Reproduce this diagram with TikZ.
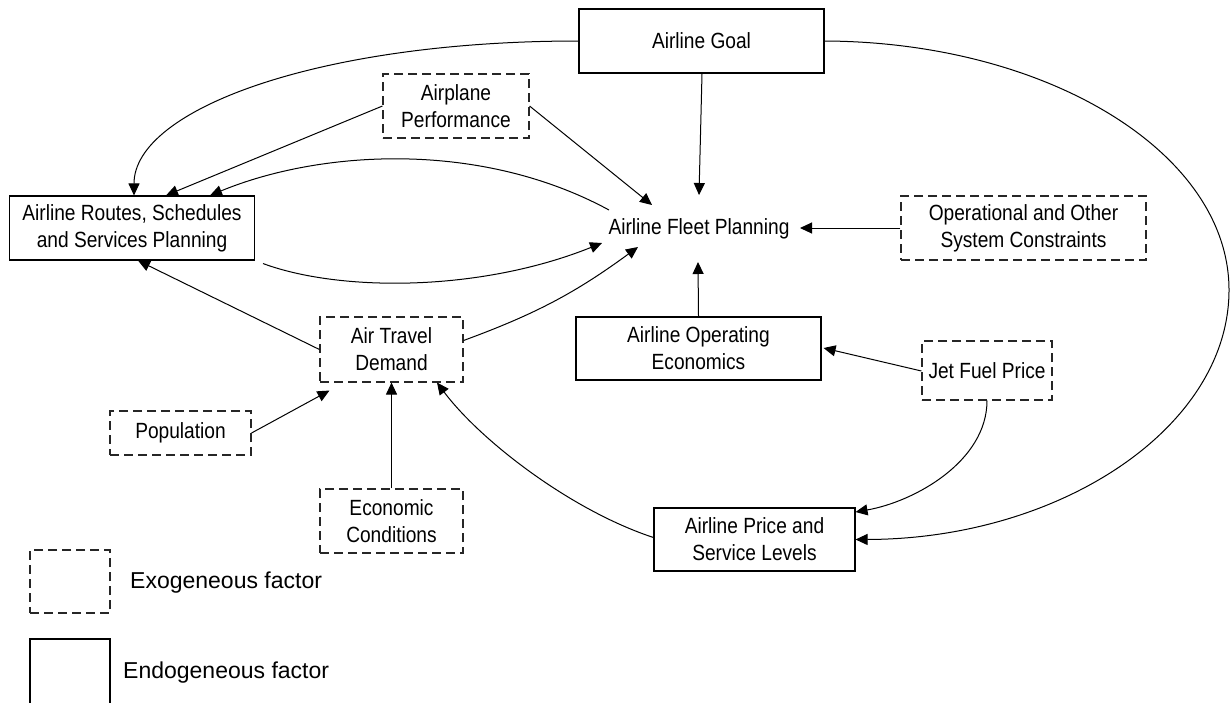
\documentclass[tikz,border=0pt]{standalone}
\usepackage{fontspec}
\setmainfont{Liberation Sans}
\newfontfamily\narrowfont[FakeStretch=0.87]{Liberation Sans}
\usetikzlibrary{arrows.meta,calc}
\begin{document}
\begin{tikzpicture}[x=1pt,y=-1pt,
  endo/.style={draw=black, line width=1.1pt, align=center, inner sep=0pt,
    font=\narrowfont\fontsize{22}{27}\selectfont},
  exo/.style={endo, draw=black!85, dash pattern=on 9pt off 5pt},
  conn/.style={line width=1pt, -{Triangle[length=12pt,width=11pt]}},
  legtext/.style={anchor=west, inner sep=0pt, font=\fontsize{23}{27}\selectfont}]
\fill[white] (0,0) rectangle (1230,702);
\useasboundingbox (0,0) rectangle (1230,702);

% nodes
\node[endo, minimum width=245pt, minimum height=64pt] (goal) at (701.5,41) {Airline Goal};
\node[exo, minimum width=146pt, minimum height=64pt] (perf) at (456,106) {Airplane\\Performance};
\node[endo, minimum width=245pt, minimum height=64pt] (routes) at (132,228) {Airline Routes, Schedules\\and Services Planning};
\node[inner sep=0pt, font=\narrowfont\fontsize{22}{27}\selectfont] (fleet) at (699,229) {Airline Fleet Planning};
\node[exo, minimum width=245pt, minimum height=64pt] (ops) at (1023.5,228) {Operational and Other\\System Constraints};
\node[exo, minimum width=143pt, minimum height=65pt] (atd) at (391.5,349.5) {Air Travel\\Demand};
\node[endo, minimum width=245pt, minimum height=63pt] (opecon) at (698.5,348.5) {Airline Operating\\Economics};
\node[exo, minimum width=130pt, minimum height=59pt] (jet) at (987,370.5) {Jet Fuel Price};
\node[exo, minimum width=141pt, minimum height=44pt] (pop) at (180.5,433) {Population};
\node[exo, minimum width=143pt, minimum height=64pt] (econ) at (391.5,521) {Economic\\Conditions};
\node[endo, minimum width=201pt, minimum height=63pt] (price) at (754.5,539.5) {Airline Price and\\Service Levels};

% legend
\node[exo, minimum width=80pt, minimum height=63pt] (legexo) at (70,581.5) {};
\node[legtext] (legexotext) at (130,583) {Exogeneous factor};
\draw[line width=1.1pt] (30,703) -- (30,639) -- (110,639) -- (110,703);
\node[legtext] (legendotext) at (123,673) {Endogeneous factor};

% connectors
\draw[conn] (goal.west) .. controls +(-260,0) and +(0,-86) .. ([xshift=2pt]routes.north);
\draw[conn] (perf.west) -- ([xshift=34pt]routes.north);
\draw[conn] (perf.east) -- ($(fleet.center)+(-47,-24)$);
\draw[conn] ($(fleet.center)+(-90,-19)$) .. controls (480,140) and (320,150) .. ([xshift=78pt]routes.north);
\draw[conn] ($(routes.south east)+(8,3)$) .. controls (340,292) and (480,292) .. ($(fleet.center)+(-97,14)$);
\draw[conn] (atd.west) -- ([xshift=6pt]routes.south);
\draw[conn] ([yshift=9pt]atd.east) to[bend right=8] ($(fleet.center)+(-61,18)$);
\draw[conn] ([xshift=0.5pt]goal.south) -- ($(fleet.center)+(0,-34)$);
\draw[conn] (ops.west) -- ($(fleet.center)+(101,-1)$);
\draw[conn] (opecon.north) -- ($(fleet.center)+(-1,33)$);
\draw[conn] ([yshift=-0.5pt]jet.west) -- ([xshift=2pt,yshift=0.5pt]opecon.east);
\draw[conn] (jet.south) to[out=-90,in=10,looseness=0.9] ([yshift=27.5pt]price.east);
\draw[conn] (goal.east) .. controls (1048,42) and (1229,153) .. (1229,290)
  .. controls (1229,427) and (1061,539) .. (price.east);
\draw[conn] ([yshift=2pt]price.west) .. controls (570,510) and (480,440) .. ([xshift=45.5pt]atd.south);
\draw[conn] (pop.east) -- ($(atd.south west)+(10,8)$);
\draw[conn] (econ.north) -- (atd.south);
\end{tikzpicture}
\end{document}
